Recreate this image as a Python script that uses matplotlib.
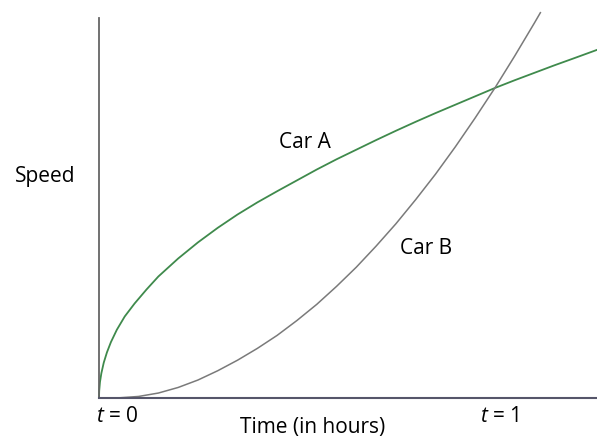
import matplotlib
matplotlib.use("Agg")
import matplotlib.pyplot as plt

# values (t in hours, speed relative to speed at t=1)
car_a_t = [0.0, 0.0005, 0.0025, 0.006, 0.012, 0.02, 0.03, 0.045, 0.065, 0.09,
           0.12, 0.15, 0.2, 0.25, 0.3, 0.35, 0.4, 0.45, 0.5, 0.55, 0.6, 0.65,
           0.7, 0.75, 0.8, 0.85, 0.9, 0.95, 1.0, 1.05, 1.1, 1.15, 1.2, 1.258]
car_a_speed = [0.0, 0.023, 0.052, 0.08, 0.114, 0.147, 0.18, 0.22, 0.263, 0.305,
               0.35, 0.392, 0.45, 0.502, 0.549, 0.592, 0.631, 0.667, 0.702,
               0.737, 0.77, 0.801, 0.832, 0.862, 0.891, 0.919, 0.946, 0.973,
               1.0, 1.025, 1.049, 1.073, 1.096, 1.123]

car_b_t = [0.0, 0.05, 0.1, 0.15, 0.2, 0.25, 0.3, 0.35, 0.4, 0.45, 0.5, 0.55,
           0.6, 0.65, 0.7, 0.75, 0.8, 0.85, 0.9, 0.95, 1.0, 1.05, 1.1, 1.115]
car_b_speed = [0.0, 0.0005, 0.005, 0.016, 0.034, 0.058, 0.088, 0.122, 0.16,
               0.202, 0.25, 0.302, 0.36, 0.422, 0.49, 0.562, 0.64, 0.722, 0.81,
               0.903, 1.0, 1.103, 1.21, 1.243]

plt.rcParams['font.family'] = ['Open Sans', 'DejaVu Sans']
plt.rcParams['mathtext.fontset'] = 'custom'
plt.rcParams['mathtext.it'] = 'Open Sans:italic'
plt.rcParams['mathtext.rm'] = 'Open Sans'

W, H = 597, 441
fig = plt.figure(figsize=(W / 100, H / 100), dpi=100)
ax = fig.add_axes([99 / W, 43 / H, 1 - 99 / W, 380 / H])

ax.plot(car_a_t, car_a_speed, color="#3f8a4c", lw=1.3, clip_on=False)
ax.plot(car_b_t, car_b_speed, color="#7a7a7a", lw=1.1, clip_on=False)

ax.set_xlim(0, 1.258)
ax.set_ylim(0, 380 / 310)

for s in ["top", "right"]:
    ax.spines[s].set_visible(False)
ax.spines["left"].set_color("#666666")
ax.spines["left"].set_linewidth(1.3)
ax.spines["bottom"].set_color("#55556a")
ax.spines["bottom"].set_linewidth(1.5)
ax.set_xticks([])
ax.set_yticks([])

fs = 15


def label(x, y, s):
    fig.text(x / W, 1 - y / H, s, fontsize=fs, ha="center", va="center")


label(305, 143, "Car A")
label(426, 248, "Car B")
label(45, 176, "Speed")
label(313, 428, "Time (in hours)")
label(117, 417, r"$t$ = 0")
label(500, 417, r"$t$ = 1")

fig.savefig("out.png", dpi=100)
